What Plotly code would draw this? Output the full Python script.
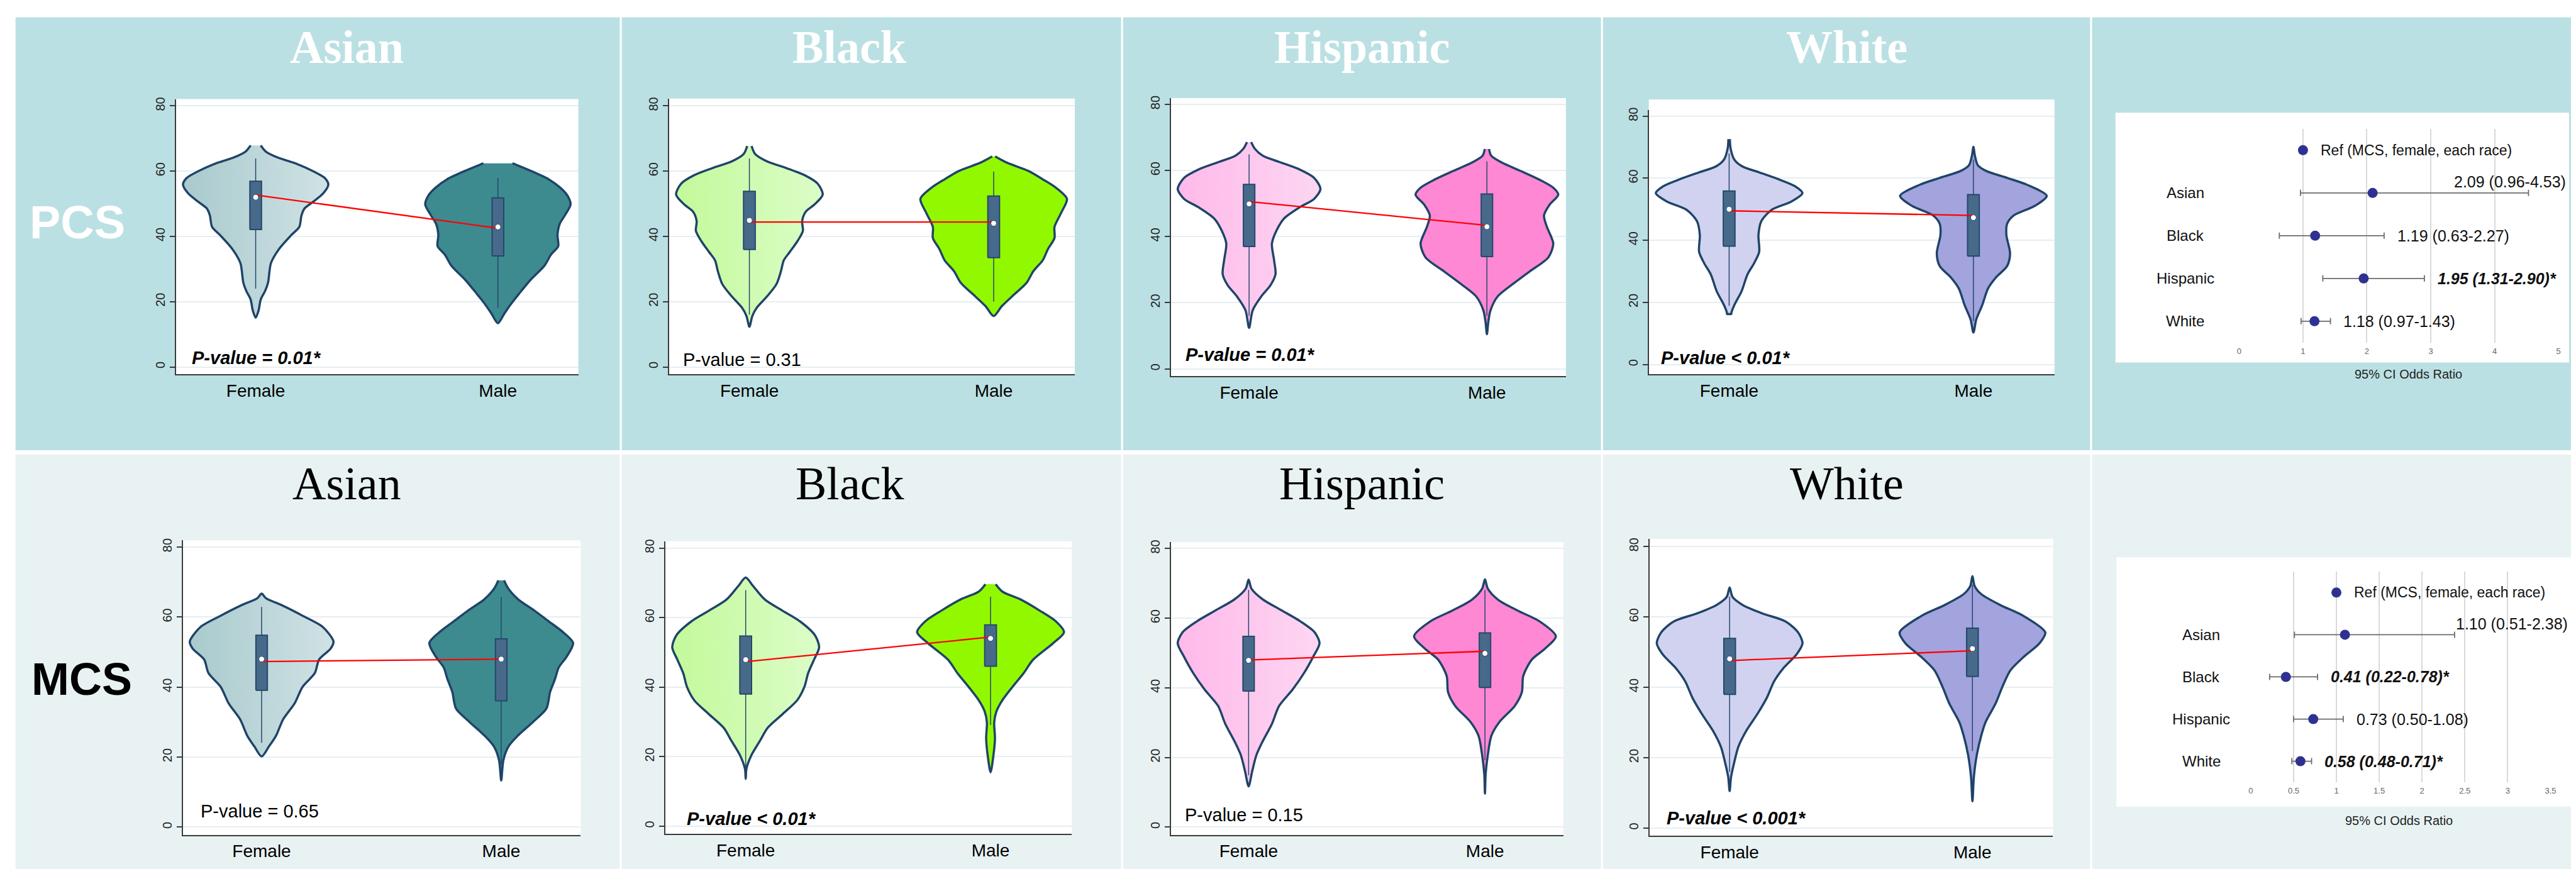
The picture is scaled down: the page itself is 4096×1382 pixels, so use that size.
import plotly.graph_objects as go

# ---------------------------------------------------------------- data
RACES = ["Asian", "Black", "Hispanic", "White"]
SEXES = ["Female", "Male"]
Y_TICKS = [0, 20, 40, 60, 80]

# violin density profiles: score values (top -> bottom) and relative half-width (1 = widest)
pcs_asian_female_y = [67.9, 66.0, 64.3, 62.2, 60.0, 57.9, 55.9, 53.2, 50.6, 48.5, 46.4, 42.9, 40.4, 36.1, 31.8, 25.8, 23.3, 20.7, 17.3, 15.1]
pcs_asian_female_w = [0.07, 0.14, 0.29, 0.57, 0.79, 0.95, 1.0, 0.93, 0.79, 0.67, 0.63, 0.60, 0.49, 0.32, 0.21, 0.17, 0.13, 0.07, 0.04, 0.0]
pcs_asian_male_y = [62.4, 60.1, 57.5, 54.9, 52.4, 49.8, 46.4, 43.8, 40.4, 37.0, 34.4, 31.0, 26.7, 22.4, 19.0, 16.4, 13.4]
pcs_asian_male_w = [0.20, 0.45, 0.70, 0.86, 0.96, 1.0, 0.92, 0.85, 0.82, 0.83, 0.73, 0.64, 0.45, 0.29, 0.17, 0.09, 0.0]
pcs_black_female_y = [67.7, 65.2, 63.0, 60.9, 58.8, 56.2, 52.8, 49.8, 47.6, 44.7, 41.7, 38.7, 35.2, 32.7, 29.3, 25.4, 21.6, 18.1, 15.6, 12.3]
pcs_black_female_w = [0.03, 0.08, 0.24, 0.51, 0.75, 0.93, 1.0, 0.89, 0.77, 0.72, 0.73, 0.66, 0.55, 0.47, 0.43, 0.37, 0.24, 0.10, 0.04, 0.0]
pcs_black_male_y = [64.5, 62.6, 60.1, 57.5, 54.9, 51.5, 47.2, 42.9, 39.5, 36.1, 32.7, 29.3, 25.8, 21.6, 18.6, 15.6]
pcs_black_male_w = [0.02, 0.18, 0.47, 0.67, 0.85, 1.0, 0.92, 0.83, 0.83, 0.74, 0.67, 0.54, 0.45, 0.25, 0.11, 0.0]
pcs_hispanic_female_y = [68.6, 66.6, 64.5, 62.4, 60.3, 57.8, 54.4, 51.4, 48.9, 45.5, 42.1, 37.9, 32.9, 28.6, 25.3, 21.9, 17.7, 12.4]
pcs_hispanic_female_w = [0.03, 0.08, 0.19, 0.45, 0.71, 0.91, 1.0, 0.91, 0.71, 0.49, 0.39, 0.32, 0.35, 0.37, 0.30, 0.17, 0.05, 0.0]
pcs_hispanic_male_y = [66.5, 64.5, 62.4, 59.9, 57.3, 54.8, 52.7, 49.7, 46.4, 43.0, 37.9, 33.7, 29.5, 26.1, 21.9, 17.7, 14.3, 10.5]
pcs_hispanic_male_w = [0.03, 0.06, 0.21, 0.47, 0.73, 0.93, 1.0, 0.88, 0.80, 0.84, 0.93, 0.86, 0.60, 0.39, 0.15, 0.05, 0.02, 0.0]
pcs_white_female_y = [72.6, 69.6, 66.0, 63.8, 61.9, 59.7, 57.4, 55.2, 52.5, 49.8, 46.2, 41.7, 36.3, 32.6, 29.0, 23.6, 19.1, 16.6, 16.3]
pcs_white_female_w = [0.01, 0.02, 0.07, 0.18, 0.41, 0.67, 0.90, 1.0, 0.85, 0.58, 0.44, 0.40, 0.41, 0.34, 0.25, 0.17, 0.07, 0.03, 0.03]
pcs_white_male_y = [70.1, 67.3, 64.2, 62.4, 60.1, 57.9, 54.3, 51.1, 48.0, 45.3, 41.7, 35.8, 31.7, 28.1, 24.5, 19.1, 14.6, 10.3]
pcs_white_male_w = [0.0, 0.02, 0.06, 0.17, 0.46, 0.73, 1.0, 0.84, 0.55, 0.46, 0.45, 0.50, 0.46, 0.31, 0.20, 0.12, 0.04, 0.0]

mcs_asian_female_y = [66.7, 65.4, 63.5, 60.4, 57.2, 53.0, 51.0, 47.9, 44.0, 40.1, 35.4, 30.8, 26.1, 23.0, 20.2]
mcs_asian_female_w = [0.0, 0.06, 0.27, 0.57, 0.85, 1.0, 0.96, 0.80, 0.74, 0.57, 0.46, 0.30, 0.20, 0.10, 0.0]
mcs_asian_male_y = [70.5, 68.1, 65.0, 61.9, 58.8, 55.7, 52.6, 48.7, 45.6, 42.4, 38.6, 33.9, 30.0, 26.1, 23.0, 19.1, 13.3]
mcs_asian_male_w = [0.04, 0.10, 0.24, 0.46, 0.66, 0.86, 1.0, 0.91, 0.80, 0.75, 0.68, 0.63, 0.44, 0.23, 0.10, 0.03, 0.0]
mcs_black_female_y = [71.5, 69.1, 65.2, 62.0, 58.9, 55.0, 51.5, 47.9, 44.0, 40.1, 36.2, 32.2, 28.3, 24.4, 20.5, 16.5, 13.6]
mcs_black_female_w = [0.0, 0.10, 0.26, 0.50, 0.74, 0.94, 1.0, 0.93, 0.85, 0.80, 0.70, 0.50, 0.30, 0.19, 0.08, 0.01, 0.0]
mcs_black_male_y = [69.6, 67.5, 65.2, 62.0, 58.9, 55.8, 52.6, 47.9, 44.0, 40.1, 36.2, 33.0, 29.9, 25.2, 20.5, 15.5]
mcs_black_male_w = [0.07, 0.16, 0.41, 0.67, 0.89, 1.0, 0.85, 0.58, 0.45, 0.30, 0.16, 0.08, 0.05, 0.06, 0.04, 0.0]
mcs_hispanic_female_y = [71.1, 68.5, 65.4, 62.2, 59.1, 56.0, 52.8, 48.9, 44.2, 39.5, 34.8, 29.7, 24.7, 20.7, 16.0, 11.7]
mcs_hispanic_female_w = [0.0, 0.04, 0.20, 0.47, 0.73, 0.93, 1.0, 0.91, 0.78, 0.62, 0.43, 0.33, 0.20, 0.11, 0.05, 0.0]
mcs_hispanic_male_y = [71.2, 68.5, 65.4, 62.2, 59.1, 54.8, 51.3, 48.1, 43.4, 38.7, 34.8, 30.1, 26.2, 20.7, 15.3, 9.6]
mcs_hispanic_male_w = [0.0, 0.04, 0.18, 0.46, 0.77, 1.0, 0.85, 0.66, 0.54, 0.52, 0.42, 0.20, 0.09, 0.04, 0.01, 0.0]
mcs_white_female_y = [68.4, 65.7, 63.4, 61.0, 58.7, 55.6, 52.5, 49.4, 45.5, 41.7, 37.0, 32.4, 27.7, 23.1, 18.4, 14.6, 10.5]
mcs_white_female_w = [0.0, 0.04, 0.18, 0.45, 0.77, 0.94, 1.0, 0.92, 0.74, 0.61, 0.51, 0.38, 0.23, 0.12, 0.06, 0.02, 0.0]
mcs_white_male_y = [71.6, 68.8, 66.5, 63.4, 60.3, 55.6, 52.5, 48.6, 44.8, 40.1, 35.5, 30.1, 26.2, 20.8, 14.6, 7.6]
mcs_white_male_w = [0.0, 0.03, 0.12, 0.38, 0.70, 1.0, 0.92, 0.70, 0.52, 0.41, 0.32, 0.18, 0.12, 0.06, 0.02, 0.0]

# box-plot summaries per race (Asian, Black, Hispanic, White)
pcs_q1_female = [42.1, 36.0, 37.0, 38.1]
pcs_q3_female = [56.9, 53.8, 55.8, 55.9]
pcs_lo_female = [24.0, 16.0, 16.0, 18.9]
pcs_hi_female = [63.9, 63.9, 64.9, 68.0]
pcs_median_female = [52.0, 44.9, 49.9, 50.0]
pcs_mean_female = [52.7, 44.4, 50.6, 49.5]
pcs_q1_male = [34.0, 33.5, 34.0, 34.9]
pcs_q3_male = [51.8, 52.4, 52.9, 54.7]
pcs_lo_male = [18.1, 20.0, 16.0, 14.0]
pcs_hi_male = [57.9, 59.9, 62.8, 66.0]
pcs_median_male = [42.9, 44.0, 43.0, 47.3]
pcs_mean_male = [42.5, 44.4, 43.4, 48.0]

mcs_q1_female = [39.1, 38.0, 39.1, 38.0]
mcs_q3_female = [54.8, 54.7, 54.8, 53.9]
mcs_lo_female = [24.1, 16.2, 14.9, 16.0]
mcs_hi_female = [62.9, 67.9, 68.1, 65.8]
mcs_median_female = [48.0, 47.9, 47.9, 48.1]
mcs_mean_female = [47.3, 47.3, 48.0, 47.6]
mcs_q1_male = [36.1, 46.0, 40.1, 43.1]
mcs_q3_male = [53.8, 57.9, 55.8, 56.8]
mcs_lo_male = [17.9, 29.1, 19.2, 21.9]
mcs_hi_male = [65.8, 66.0, 68.1, 69.2]
mcs_median_male = [48.0, 54.0, 49.9, 51.0]
mcs_mean_male = [48.0, 54.4, 50.5, 50.4]

pcs_pvalue_text = ["P-value = 0.01*", "P-value = 0.31", "P-value = 0.01*", "P-value < 0.01*"]
pcs_pvalue_sig = [True, False, True, True]
mcs_pvalue_text = ["P-value = 0.65", "P-value < 0.01*", "P-value = 0.15", "P-value < 0.001*"]
mcs_pvalue_sig = [False, True, False, True]

# odds ratios (male vs female) per race
or_ref_label = "Ref (MCS, female, each race)"
or_ref_value = 1.0
pcs_or = [2.09, 1.19, 1.95, 1.18]
pcs_or_lo = [0.96, 0.63, 1.31, 0.97]
pcs_or_hi = [4.53, 2.27, 2.90, 1.43]
pcs_or_sig = [False, False, True, False]
mcs_or = [1.10, 0.41, 0.73, 0.58]
mcs_or_lo = [0.51, 0.22, 0.50, 0.48]
mcs_or_hi = [2.38, 0.78, 1.08, 0.71]
mcs_or_sig = [False, True, False, True]
pcs_or_ticks = [0, 1, 2, 3, 4, 5]
mcs_or_ticks = [0, 0.5, 1, 1.5, 2, 2.5, 3, 3.5]
or_axis_title = "95% CI Odds Ratio"
row_labels = ["PCS", "MCS"]

# ---------------------------------------------------------------- style
W_REF, H_REF = 5268.0, 1778.0
S = 4096.0 / W_REF
SANS = "Liberation Sans, Arial, sans-serif"
SERIF = "Liberation Serif, Times New Roman, serif"


def px(x):
    return x / W_REF


def py(y):
    return 1 - y / H_REF


FEMALE_FILL = [("#a9cacd", "#d0e2e5"), ("#c3f99a", "#dcfdc8"), ("#ffb9ea", "#fdd6f2"), ("#d1d2f0", "#d1d2f0")]
MALE_FILL = ["#3d8b8f", "#92f800", "#ff88d4", "#a3a3de"]
OUTLINE = "#1f4468"
BOX_FILL = "#476a8b"
BOX_LINE = "#24476a"
HALF_W = 0.30
BOX_HALF = 0.024
X_RANGE = [-0.329, 1.332]

COLS = [(28, 1267), (1271, 2295), (2299, 3279), (3283, 4282), (4286, 5268)]
ROW_BG = [(29, 918, "#bbe0e3"), (927, 1778, "#e8f2f3")]

# violin panel geometry in reference pixels: x0, x1, ytop, ybottom, yrange
PANELS = [
    (357, 1182, 197, 762, (-2.24, 82.09)),
    (1368, 2200, 196, 762, (-2.24, 82.24)),
    (2397, 3207, 195, 766, (-2.21, 81.91)),
    (3377, 4209, 220, 762, (-3.14, 81.88)),
    (371, 1187, 1103, 1708, (-2.23, 81.95)),
    (1360, 2194, 1105, 1706, (-2.24, 81.96)),
    (2397, 3202, 1107, 1708, (-2.24, 81.82)),
    (3379, 4206, 1100, 1710, (-2.21, 82.2)),
]
TITLE_X = [707, 1739, 2789, 3783]
TITLE_Y = [90, 987]
PVAL_POS = [[(387, 728), (1394, 732), (2425, 722), (3399, 728)],
            [(405, 1659), (1402, 1675), (2423, 1667), (3411, 1673)]]
ROW_LABEL_POS = [(155, 450), (164, 1388)]

# forest plots
FOREST = [
    dict(zero=4587.5, ppu=131.0, rng=(-0.005, 5.005), ytop=258, ybot=697, box=(4334, 5264, 225, 738),
         cat_x=4477, title=(4935, 762), ticks=pcs_or_ticks),
    dict(zero=4611.4, ppu=175.6, rng=(-0.005, 3.505), ytop=1167, ybot=1600, box=(4336, 5268, 1138, 1650),
         cat_x=4510, title=(4915, 1679), ticks=mcs_or_ticks),
]

# ---------------------------------------------------------------- build
violins = {
    "PCS": [(pcs_asian_female_y, pcs_asian_female_w, pcs_asian_male_y, pcs_asian_male_w),
            (pcs_black_female_y, pcs_black_female_w, pcs_black_male_y, pcs_black_male_w),
            (pcs_hispanic_female_y, pcs_hispanic_female_w, pcs_hispanic_male_y, pcs_hispanic_male_w),
            (pcs_white_female_y, pcs_white_female_w, pcs_white_male_y, pcs_white_male_w)],
    "MCS": [(mcs_asian_female_y, mcs_asian_female_w, mcs_asian_male_y, mcs_asian_male_w),
            (mcs_black_female_y, mcs_black_female_w, mcs_black_male_y, mcs_black_male_w),
            (mcs_hispanic_female_y, mcs_hispanic_female_w, mcs_hispanic_male_y, mcs_hispanic_male_w),
            (mcs_white_female_y, mcs_white_female_w, mcs_white_male_y, mcs_white_male_w)],
}
boxes = {
    "PCS": dict(q1f=pcs_q1_female, q3f=pcs_q3_female, lof=pcs_lo_female, hif=pcs_hi_female,
                medf=pcs_median_female, meanf=pcs_mean_female,
                q1m=pcs_q1_male, q3m=pcs_q3_male, lom=pcs_lo_male, him=pcs_hi_male,
                medm=pcs_median_male, meanm=pcs_mean_male),
    "MCS": dict(q1f=mcs_q1_female, q3f=mcs_q3_female, lof=mcs_lo_female, hif=mcs_hi_female,
                medf=mcs_median_female, meanf=mcs_mean_female,
                q1m=mcs_q1_male, q3m=mcs_q3_male, lom=mcs_lo_male, him=mcs_hi_male,
                medm=mcs_median_male, meanm=mcs_mean_male),
}
pvals = {"PCS": (pcs_pvalue_text, pcs_pvalue_sig), "MCS": (mcs_pvalue_text, mcs_pvalue_sig)}
ors = {"PCS": (pcs_or, pcs_or_lo, pcs_or_hi, pcs_or_sig), "MCS": (mcs_or, mcs_or_lo, mcs_or_hi, mcs_or_sig)}

fig = go.Figure()
layout = dict(width=4096, height=1382, margin=dict(l=0, r=0, t=0, b=0, pad=0),
              paper_bgcolor="white", plot_bgcolor="rgba(0,0,0,0)", showlegend=False)
shapes = []
annotations = []


def rect(x0, x1, y0, y1, color):
    shapes.append(dict(type="rect", xref="paper", yref="paper", x0=px(x0), x1=px(x1),
                       y0=py(y1), y1=py(y0), fillcolor=color, line=dict(width=0), layer="below"))


for (ya, yb, c) in ROW_BG:
    for (xa, xb) in COLS:
        rect(xa, xb, ya, yb, c)


def names(k):
    return ("x" if k == 1 else f"x{k}", "y" if k == 1 else f"y{k}",
            "xaxis" if k == 1 else f"xaxis{k}", "yaxis" if k == 1 else f"yaxis{k}")


def violin_outline(center, ys, ws):
    xr = [center + w * HALF_W for w in ws]
    xl = [center - w * HALF_W for w in ws]
    X = list(xr)
    Y = list(ys)
    start = len(ws) - 2 if ws[-1] == 0 else len(ws) - 1
    for i in range(start, -1, -1):
        X.append(xl[i])
        Y.append(ys[i])
    return X, Y


def box_outline(center, q1, q3):
    return ([center - BOX_HALF, center + BOX_HALF, center + BOX_HALF, center - BOX_HALF, center - BOX_HALF],
            [q1, q1, q3, q3, q1])


for r, meas in enumerate(["PCS", "MCS"]):
    b = boxes[meas]
    for i, race in enumerate(RACES):
        k = r * 4 + i + 1
        xa, ya, xk, yk = names(k)
        x0, x1, yt, ybt, yr = PANELS[k - 1]
        white_top = 198 if (r == 0 and i == 3) else yt
        rect(x0, x1, white_top, ybt, "white")
        layout[xk] = dict(domain=[px(x0), px(x1)], range=X_RANGE, anchor=ya, showline=True,
                          linecolor="#3a3a3a", linewidth=2, ticks="", tickvals=[0, 1], ticktext=SEXES,
                          tickfont=dict(family=SANS, size=28, color="black"), showgrid=False,
                          zeroline=False, fixedrange=True, ticklabelstandoff=0)
        layout[yk] = dict(domain=[py(ybt), py(yt)], range=list(yr), anchor=xa, showline=True,
                          linecolor="#3a3a3a", linewidth=2, ticks="outside", ticklen=8, tickwidth=1.5,
                          tickcolor="#3a3a3a", tickvals=Y_TICKS, tickangle=-90,
                          tickfont=dict(family=SANS, size=20, color="#222222"),
                          showgrid=True, gridcolor="#e6eef1", gridwidth=2, zeroline=False, fixedrange=True)
        fy, fw, my, mw = violins[meas][i]
        X, Y = violin_outline(0, fy, fw)
        c1, c2 = FEMALE_FILL[i]
        fig.add_trace(go.Scatter(x=X, y=Y, xaxis=xa, yaxis=ya, mode="lines", fill="toself",
                                 fillcolor=c2, fillgradient=dict(type="horizontal", colorscale=[[0, c1], [1, c2]]),
                                 line=dict(color=OUTLINE, width=3.5, shape="spline", smoothing=0.8),
                                 hoverinfo="skip"))
        X, Y = violin_outline(1, my, mw)
        fig.add_trace(go.Scatter(x=X, y=Y, xaxis=xa, yaxis=ya, mode="lines", fill="toself",
                                 fillcolor=MALE_FILL[i],
                                 line=dict(color=OUTLINE, width=3.5, shape="spline", smoothing=0.8),
                                 hoverinfo="skip"))
        # whiskers
        fig.add_trace(go.Scatter(x=[0, 0, None, 1, 1],
                                 y=[b["lof"][i], b["hif"][i], None, b["lom"][i], b["him"][i]],
                                 xaxis=xa, yaxis=ya, mode="lines",
                                 line=dict(color=BOX_LINE, width=1.5), hoverinfo="skip"))
        # boxes (interquartile range)
        for c, q1, q3 in ((0, b["q1f"][i], b["q3f"][i]), (1, b["q1m"][i], b["q3m"][i])):
            bxs, bys = box_outline(c, q1, q3)
            fig.add_trace(go.Scatter(x=bxs, y=bys, xaxis=xa, yaxis=ya, mode="lines", fill="toself",
                                     fillcolor=BOX_FILL, line=dict(color=BOX_LINE, width=2),
                                     hoverinfo="skip"))
        # mean connection
        fig.add_trace(go.Scatter(x=[0, 1], y=[b["meanf"][i], b["meanm"][i]], xaxis=xa, yaxis=ya,
                                 mode="lines", line=dict(color="#ff0000", width=2.3), hoverinfo="skip"))
        # medians
        fig.add_trace(go.Scatter(x=[0, 1], y=[b["medf"][i], b["medm"][i]], xaxis=xa, yaxis=ya,
                                 mode="markers", marker=dict(color="white", size=9,
                                                             line=dict(color=BOX_LINE, width=1)),
                                 hoverinfo="skip"))
        # title
        annotations.append(dict(xref="paper", yref="paper", x=px(TITLE_X[i]), y=py(TITLE_Y[r]),
                                text=race, showarrow=False, xanchor="center", yanchor="middle",
                                font=dict(family=SERIF, size=74, color="white" if r == 0 else "black",
                                          weight="bold" if r == 0 else "normal")))
        # p-value
        txt, sig = pvals[meas][0][i], pvals[meas][1][i]
        pxp, pyp = PVAL_POS[r][i]
        annotations.append(dict(xref="paper", yref="paper", x=px(pxp), y=py(pyp),
                                text=f"<b><i>{txt}</i></b>" if sig else txt, showarrow=False,
                                xanchor="left", yanchor="middle",
                                font=dict(family=SANS, size=29, color="black")))
    # row label
    lx, ly = ROW_LABEL_POS[r]
    annotations.append(dict(xref="paper", yref="paper", x=px(lx), y=py(ly), text=f"<b>{row_labels[r]}</b>",
                            showarrow=False, xanchor="center", yanchor="middle",
                            font=dict(family=SANS, size=74 if r == 0 else 72,
                                      color="white" if r == 0 else "black")))

# forest plots
for r, meas in enumerate(["PCS", "MCS"]):
    F = FOREST[r]
    k = 9 + r
    xa, ya, xk, yk = names(k)
    bx0, bx1, by0, by1 = F["box"]
    rect(bx0, bx1, by0, by1, "white")
    dx0 = F["zero"] + F["rng"][0] * F["ppu"]
    dx1 = F["zero"] + F["rng"][1] * F["ppu"]
    layout[xk] = dict(domain=[px(dx0), px(dx1)], range=list(F["rng"]), anchor=ya, showline=False,
                      ticks="", tickvals=F["ticks"], showgrid=True, gridcolor="#d9d9d9", gridwidth=1.5,
                      zeroline=False, tickfont=dict(family=SANS, size=13, color="#666666"),
                      fixedrange=True, ticklabelstandoff=4)
    layout[yk] = dict(domain=[py(F["ybot"]), py(F["ytop"])], range=[4.5, -0.5], anchor=xa,
                      visible=False, fixedrange=True)
    vals, lo, hi, sig = ors[meas]
    rows = list(range(1, len(RACES) + 1))
    fig.add_trace(go.Scatter(x=vals, y=rows, xaxis=xa, yaxis=ya, mode="markers",
                             marker=dict(color="#2f3192", size=16),
                             error_x=dict(type="data", symmetric=False,
                                          array=[h - v for h, v in zip(hi, vals)],
                                          arrayminus=[v - l for v, l in zip(vals, lo)],
                                          color="#6b6b6b", thickness=1.8, width=5),
                             hoverinfo="skip"))
    fig.add_trace(go.Scatter(x=[or_ref_value], y=[0], xaxis=xa, yaxis=ya, mode="markers",
                             marker=dict(color="#2f3192", size=16), hoverinfo="skip"))
    ref_px = F["zero"] + or_ref_value * F["ppu"]
    annotations.append(dict(xref="paper", yref=ya, x=px(ref_px + 34), y=0, text=or_ref_label,
                            showarrow=False, xanchor="left", yanchor="middle",
                            font=dict(family=SANS, size=23, color="#111111")))
    fs = 25
    for j, race in enumerate(RACES):
        annotations.append(dict(xref="paper", yref=ya, x=px(F["cat_x"]), y=j + 1, text=race,
                                showarrow=False, xanchor="center", yanchor="middle",
                                font=dict(family=SANS, size=24, color="#111111")))
        txt = f"{vals[j]:.2f} ({lo[j]:.2f}-{hi[j]:.2f})" + ("*" if sig[j] else "")
        est_w = len(txt) * 0.445 * fs / S
        hi_px = F["zero"] + hi[j] * F["ppu"]
        start = hi_px + 24
        yshift = 0
        if start + est_w > bx1 - 4:
            xanchor, xpos = "right", bx1 - 4
            if xpos - est_w < hi_px + 10:
                yshift = 23 * S
        else:
            xanchor, xpos = "left", start
        annotations.append(dict(xref="paper", yref=ya, x=px(xpos), y=j + 1, yshift=yshift,
                                text=f"<b><i>{txt}</i></b>" if sig[j] else txt,
                                showarrow=False, xanchor=xanchor, yanchor="middle",
                                font=dict(family=SANS, size=fs, color="#111111")))
    tx, ty = F["title"]
    annotations.append(dict(xref="paper", yref="paper", x=px(tx), y=py(ty), text=or_axis_title,
                            showarrow=False, xanchor="center", yanchor="middle",
                            font=dict(family=SANS, size=20, color="#222222")))

layout["shapes"] = shapes
layout["annotations"] = annotations
fig.update_layout(**layout)
fig.write_html("out.html")
